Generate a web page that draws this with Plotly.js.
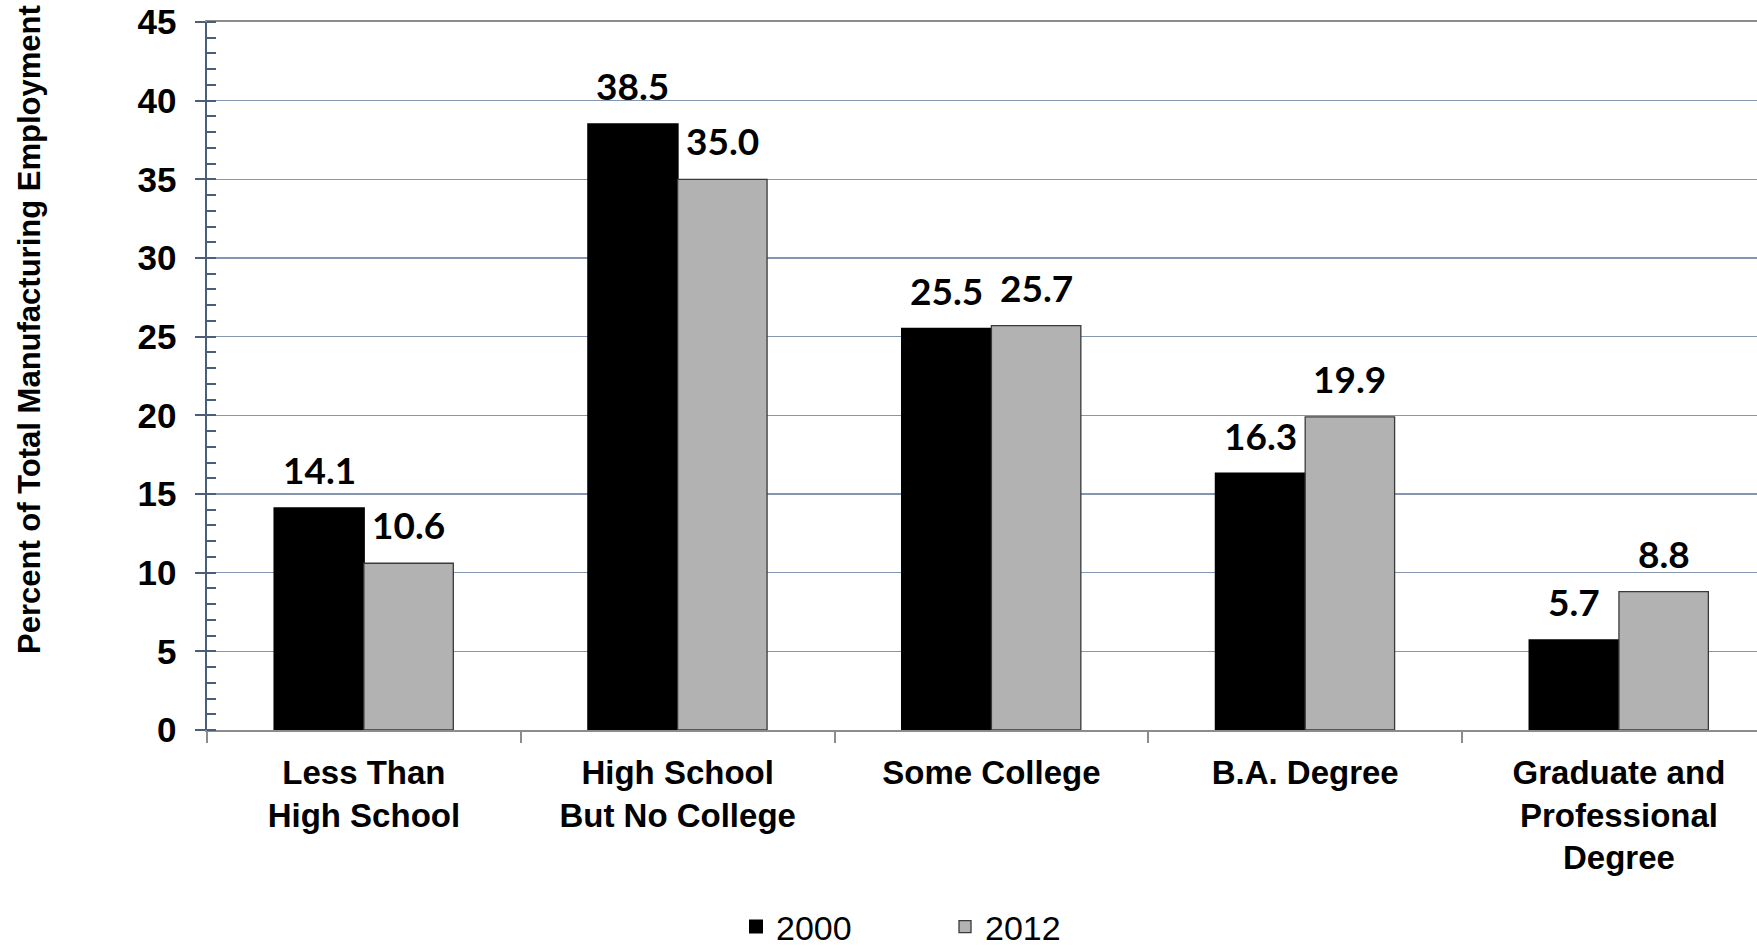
<!DOCTYPE html>
<html>
<head>
<meta charset="utf-8">
<script src="https://cdn.plot.ly/plotly-3.0.1.min.js"></script>
<style>
  html, body { margin: 0; padding: 0; background: #ffffff; }
  #chart { width: 1757px; height: 949px; }
</style>
</head>
<body>
<div id="chart"></div>
<script>
// ---- Data ----
const categories = [
  "Less Than<br>High School",
  "High School<br>But No College",
  "Some College",
  "B.A. Degree",
  "Graduate and<br>Professional<br>Degree"
];
const seriesNames = ["2000", "2012"];
const values2000 = [14.1, 38.5, 25.5, 16.3, 5.7];
const values2012 = [10.6, 35.0, 25.7, 19.9, 8.8];
const yTitle = "Percent of Total Manufacturing Employment";

// ---- Layout constants ----
const W = 1757, H = 949;
const mL = 207, mR = 0, mT = 22, mB = 219;
const xRange = [-0.5, 4.44];
const bargap = 0.43;
const font = '"Liberation Sans", Arial, sans-serif';
const labelFont = 'Lato, "Open Sans", sans-serif';

const plotW = W - mL - mR;
const plotH = H - mT - mB;
const catPx = plotW / (xRange[1] - xRange[0]);
const barPx = catPx * (1 - bargap) / 2;
const shift = barPx / 2;

const traces = [
  {
    type: 'bar', name: seriesNames[0], x: categories, y: values2000,
    marker: { color: '#000000', line: { color: '#000000', width: 2 } },
    hoverinfo: 'x+y'
  },
  {
    type: 'bar', name: seriesNames[1], x: categories, y: values2012,
    marker: { color: '#b2b2b2', line: { color: '#3a3a3a', width: 1.3 } },
    hoverinfo: 'x+y'
  }
];

const annotations = [];
categories.forEach((c, i) => {
  annotations.push({
    x: c, y: values2000[i], xref: 'x', yref: 'y',
    text: values2000[i].toFixed(1), showarrow: false,
    xanchor: 'center', yanchor: 'bottom', xshift: -shift, yshift: 14,
    font: { family: labelFont, size: 37, color: '#000', weight: 'bold' }
  });
  annotations.push({
    x: c, y: values2012[i], xref: 'x', yref: 'y',
    text: values2012[i].toFixed(1), showarrow: false,
    xanchor: 'center', yanchor: 'bottom', xshift: shift, yshift: 14,
    font: { family: labelFont, size: 37, color: '#000', weight: 'bold' }
  });
});

// y-axis title as rotated text (positioned like the original, above plot centre)
annotations.push({
  text: yTitle, textangle: -90, showarrow: false,
  xref: 'paper', yref: 'paper',
  x: (29 - mL) / plotW, xanchor: 'center',
  y: (H - mB - 330) / plotH, yanchor: 'middle',
  font: { family: font, size: 31, color: '#000', weight: 'bold' }
});

const layout = {
  width: W, height: H,
  margin: { l: mL, r: mR, t: mT, b: mB, pad: 0, autoexpand: false },
  paper_bgcolor: '#ffffff', plot_bgcolor: '#ffffff',
  barmode: 'group', bargap: bargap, bargroupgap: 0,
  font: { family: font, color: '#000' },
  showlegend: true,
  legend: {
    orientation: 'h', x: (736 - mL) / plotW, xanchor: 'left',
    y: (H - mB - 898) / plotH, yanchor: 'top',
    font: { family: font, size: 34, color: '#000' },
    entrywidth: 164, entrywidthmode: 'pixels',
    bgcolor: 'rgba(0,0,0,0)', borderwidth: 0
  },
  xaxis: {
    type: 'category', range: xRange,
    showline: true, mirror: true, linecolor: '#8c8c8c', linewidth: 2,
    ticks: 'outside', tickson: 'boundaries', ticklen: 11, tickwidth: 2, tickcolor: '#8c8c8c',
    tickfont: { family: font, size: 33, color: '#000', weight: 'bold' },
    ticklabelstandoff: 12,
    showgrid: false, zeroline: false, fixedrange: true
  },
  yaxis: {
    range: [0, 45], dtick: 5, tick0: 0,
    showline: true, linecolor: '#4b5d7c', linewidth: 2.5,
    ticks: 'outside', ticklen: 10, tickwidth: 2, tickcolor: '#4b5d7c',
    minor: { dtick: 1, ticks: 'inside', ticklen: 9, tickwidth: 2, tickcolor: '#4b5d7c', showgrid: false },
    tickfont: { family: font, size: 35, color: '#000', weight: 'bold' },
    ticklabelstandoff: 11,
    showgrid: true, gridcolor: '#8796b0', gridwidth: 1.3,
    zeroline: false, fixedrange: true
  },
  annotations: annotations
};

Plotly.newPlot('chart', traces, layout, { displayModeBar: false, staticPlot: true });
</script>
</body>
</html>
